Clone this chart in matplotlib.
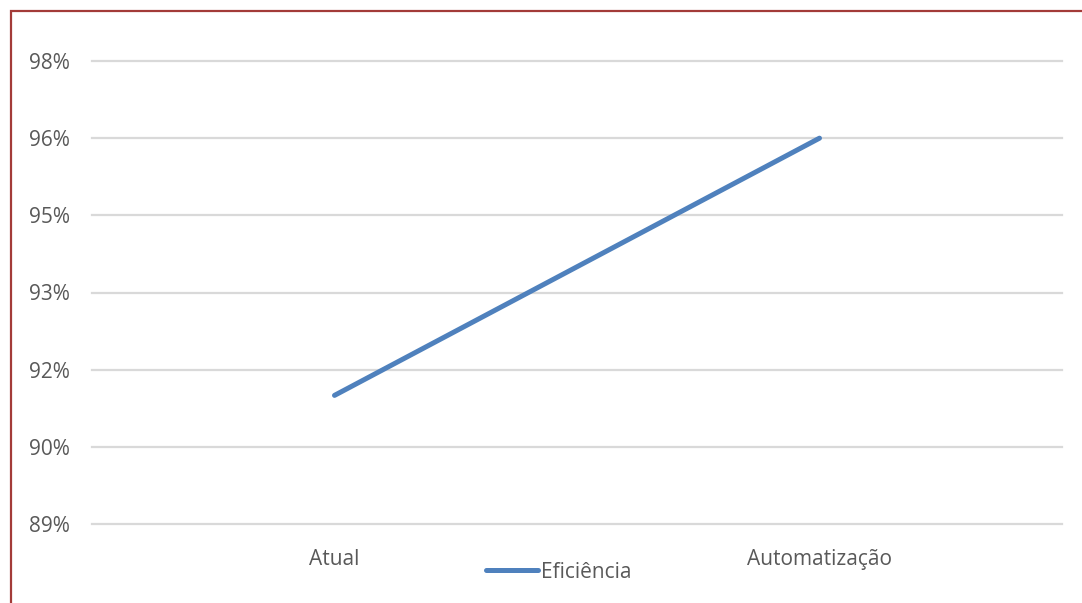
import matplotlib.pyplot as plt
from matplotlib.lines import Line2D
from matplotlib.patches import Rectangle

plt.rcParams['font.family'] = ['Open Sans', 'DejaVu Sans']

categorias = ["Atual", "Automatização"]
eficiencia = [0.915, 0.965]
ticks_y = [0.89, 0.905, 0.92, 0.935, 0.95, 0.965, 0.98]
ticks_y_labels = ["89%", "90%", "92%", "93%", "95%", "96%", "98%"]

W, H = 1082, 603
fig = plt.figure(figsize=(W / 100, H / 100), dpi=100)
ax = fig.add_axes([92 / W, 1 - 524 / H, (1062 - 92) / W, (524 - 61) / H])

x = range(len(categorias))
ax.plot(x, eficiencia, color="#4F81BD", linewidth=3.6, solid_capstyle="round",
        label="Eficiência")

ax.set_xlim(-0.5, 1.5)
ax.set_ylim(ticks_y[0], ticks_y[-1])
ax.set_yticks(ticks_y)
ax.set_yticklabels(ticks_y_labels)
ax.set_xticks(list(x))
ax.set_xticklabels(categorias)
ax.tick_params(length=0, labelsize=15, colors="#595959")
ax.tick_params(axis="y", pad=16)
ax.tick_params(axis="x", pad=18)
ax.grid(axis="y", color="#D9D9D9", linewidth=1.6)
for gl in ax.yaxis.get_gridlines():
    gl.set_clip_on(False)
ax.set_axisbelow(True)
for s in ax.spines.values():
    s.set_visible(False)

handle = Line2D([], [], color="#4F81BD", linewidth=3.6, solid_capstyle="round")
fig.legend([handle], ["Eficiência"], loc="center", bbox_to_anchor=(559 / W, 1 - 572 / H),
           frameon=False, fontsize=15, labelcolor="#595959", handlelength=2.5,
           handletextpad=0.15)

# moldura vermelha (esquerda e topo)
fig.patches.append(Rectangle((11 / W, -0.05), 1.2, 1 - 11 / H + 0.05, transform=fig.transFigure,
                             fill=False, edgecolor="#A33B38", linewidth=1.6))

fig.savefig("out.png", dpi=100)
